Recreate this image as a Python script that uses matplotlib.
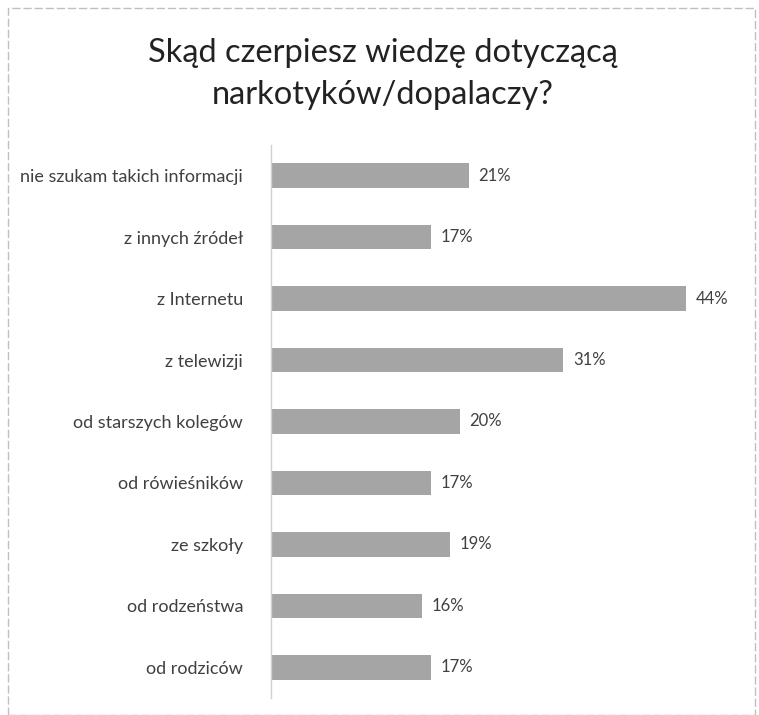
import matplotlib
matplotlib.use("Agg")
import matplotlib.pyplot as plt
from matplotlib.patches import Rectangle

title = "Skąd czerpiesz wiedzę dotyczącą\nnarkotyków/dopalaczy?"
categories = ["nie szukam takich informacji", "z innych źródeł", "z Internetu",
              "z telewizji", "od starszych kolegów", "od rówieśników",
              "ze szkoły", "od rodzeństwa", "od rodziców"]
values = [21, 17, 44, 31, 20, 17, 19, 16, 17]

plt.rcParams['font.family'] = ['Lato', 'DejaVu Sans']

fig = plt.figure(figsize=(7.59, 7.15), dpi=100)
ax = fig.add_axes([271/759, 1-698/715, 434/759, (698-145)/715])

n = len(categories)
ypos = list(range(n))[::-1]
ax.barh(ypos, values, height=0.4, color='#a5a5a5', edgecolor='none')
for y, v in zip(ypos, values):
    ax.text(v + 1.0, y, f"{v}%", va='center', ha='left', fontsize=12, color='#404040')

ax.set_xlim(0, 46)
ax.set_ylim(-0.5, n - 0.5)
ax.set_yticks(ypos)
ax.set_yticklabels(categories, fontsize=13, color='#404040')
ax.tick_params(axis='y', length=0, pad=20)
ax.set_xticks([])
for s in ['top', 'right', 'bottom']:
    ax.spines[s].set_visible(False)
ax.spines['left'].set_color('#d0d0d0')
ax.spines['left'].set_linewidth(1.0)

fig.text(383/759, 1-74/715, title, ha='center', va='center', fontsize=23.5,
         color='#222222', linespacing=1.5)

fig.patches.append(Rectangle((8/759, 0.0), 747/759, 1-8/715, transform=fig.transFigure,
                             fill=False, edgecolor='#c0c0c0', linewidth=1.0,
                             linestyle=(0, (6, 2))))

fig.savefig("out.png", dpi=100)
